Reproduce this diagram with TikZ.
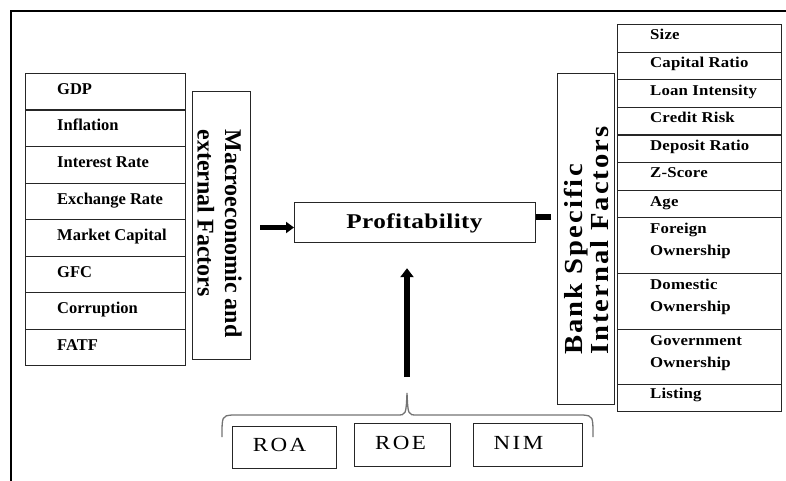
\documentclass[tikz,border=0pt]{standalone}
\usepackage{fontspec}
\setmainfont{Liberation Serif}
\newfontfamily\profont[FakeStretch=1.2,LetterSpace=2]{Liberation Serif}
\newfontfamily\bankfont[FakeStretch=1.1,LetterSpace=8]{Liberation Serif}
\newfontfamily\rfont[FakeStretch=1.12,LetterSpace=1]{Liberation Serif}
\newfontfamily\kpifont[FakeStretch=1.15,LetterSpace=12]{Liberation Serif}
\usetikzlibrary{arrows.meta,calc}
\tikzset{
  box/.style={draw=black!85, line width=1.2pt, inner sep=0pt},
  lrow/.style={box, minimum width=160pt, minimum height=36.5pt, anchor=north west},
  ltxt/.style={anchor=base west, inner sep=0pt, font=\fontsize{16.5}{18}\selectfont\bfseries},
  rrow/.style={box, minimum width=164pt, anchor=north west},
  rtxt/.style={anchor=base west, inner sep=0pt, align=left, font=\rfont\fontsize{15}{21.5}\selectfont\bfseries},
  kpibox/.style={box, anchor=north west},
  kpitxt/.style={inner sep=0pt, font=\kpifont\fontsize{20}{23}\selectfont},
  fat/.style={line width=5pt, black},
}
\begin{document}
\begin{tikzpicture}[x=1pt,y=-1pt]
\useasboundingbox (0,0) rectangle (786,481);
% outer frame
\draw[line width=2pt] (786,11) -- (11,11) -- (11,481);

% left stack
\foreach \t [count=\i from 0] in {GDP,Inflation,Interest Rate,Exchange Rate,Market Capital,GFC,Corruption,FATF} {
  \node[lrow] (L\i) at (25,73+36.5*\i) {};
  \node[ltxt] (LT\i) at ($(L\i.north west)+(32,21.5)$) {\t};
}

% macro box
\node[box, minimum width=58pt, minimum height=268pt, anchor=north west] (macro) at (192,91) {};
\node[rotate=-90, align=left, inner sep=0pt, font=\fontsize{24}{27.5}\selectfont\bfseries] (mtxt) at (219.5,233.5) {Macroeconomic and\\external Factors};

% profitability
\node[box, minimum width=241pt, minimum height=40pt, anchor=north west] (profit) at (294,202) {};
\node[anchor=base, inner sep=0pt, font=\profont\fontsize{21}{24}\selectfont\bfseries] (ptxt) at (414.5,228.5) {Profitability};

% bank box
\node[box, minimum width=57pt, minimum height=331pt, anchor=north west] (bank) at (557,73) {};
\node[rotate=90, align=left, anchor=west, inner sep=0pt, font=\bankfont\fontsize{26}{26}\selectfont\bfseries] (btxt) at (586,355) {Bank Specific\\Internal Factors};

% right stack
\foreach \tp/\h/\b/\t [count=\i] in {24/27.6/16/Size, 51.6/27.6/16/Capital Ratio, 79.2/27.6/16/Loan Intensity, 106.8/27.6/16/Credit Risk, 134.4/27.6/16/Deposit Ratio, 162/28/16/Z-Score, 190/27/16/Age, 217/56/38/{Foreign\\Ownership}, 273/56/38/{Domestic\\Ownership}, 329/55/38/{Government\\Ownership}, 384/27/14.5/Listing} {
  \node[rrow, minimum height=\h pt] (R\i) at (617,\tp) {};
  \node[rtxt] (RT\i) at ($(R\i.north west)+(33,\b)$) {\t};
}

% KPI boxes
\node[kpibox, minimum width=104pt, minimum height=42pt] (roa) at (232,426) {};
\node[kpibox, minimum width=96pt, minimum height=43pt] (roe) at (354,423) {};
\node[kpibox, minimum width=109pt, minimum height=43pt] (nim) at (473,423) {};
\node[kpitxt] (roat) at (279.5,445) {ROA};
\node[kpitxt] (roet) at (400.5,443) {ROE};
\node[kpitxt] (nimt) at (518.5,443) {NIM};

% brace
\coordinate (bt) at (407,393);
\draw[black!55, line width=1.3pt] (222,437) .. controls (222,416) .. (232,415) -- (397,415) .. controls (406,415) .. (bt) .. controls (408,415) .. (417,415) -- (583,415) .. controls (593,416) .. (593,437);

% connectors
\draw[fat, line width=4.5pt, -{Triangle[width=11pt,length=8pt]}, shorten <=9pt] (macro.east |- 0,227.5) -- (profit.west |- 0,227.5);
\draw[fat, line width=6pt, -{Triangle[width=13pt,length=9pt]}, shorten <=16pt, shorten >=25pt] (bt) -- (profit.south -| bt);
\draw[fat, line width=6pt, shorten >=6pt] (profit.east |- 0,216.5) -- (bank.west |- 0,216.5);
\end{tikzpicture}
\end{document}
